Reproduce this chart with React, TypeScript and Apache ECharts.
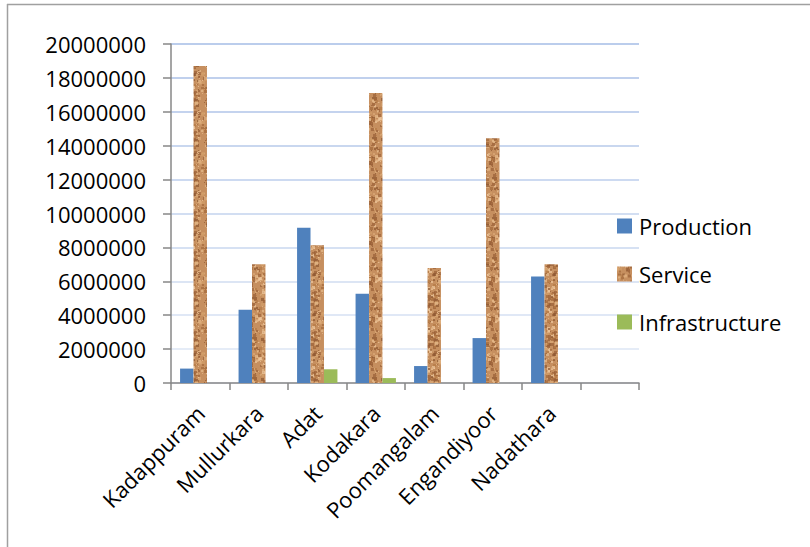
import React, { useEffect, useRef } from "react";
import * as echarts from "echarts";

const categories = ["Kadappuram", "Mullurkara", "Adat", "Kodakara", "Poomangalam", "Engandiyoor", "Nadathara", ""];
const production = [850000, 4320000, 9160000, 5270000, 1000000, 2650000, 6290000, null];
const service = [18700000, 7010000, 8130000, 17110000, 6780000, 14440000, 7010000, null];
const infrastructure = [null, null, 810000, 290000, null, null, null, null];
const yTicks = [0, 2000000, 4000000, 6000000, 8000000, 10000000, 12000000, 14000000, 16000000, 18000000, 20000000];

function hash(n: number): number {
  let x = Math.imul(n ^ 0x9e3779b9, 0x85ebca6b);
  x ^= x >>> 13;
  x = Math.imul(x, 0xc2b2ae35);
  x ^= x >>> 16;
  return (x >>> 0) / 4294967296;
}

function makeCork(): HTMLCanvasElement {
  const size = 40;
  const c = document.createElement("canvas");
  c.width = size;
  c.height = size;
  const ctx = c.getContext("2d")!;
  ctx.fillStyle = "#c68f5f";
  ctx.fillRect(0, 0, size, size);
  const shades = ["#a2683b", "#dcaa78", "#8c5630", "#e6b98a", "#b57945", "#d29c68", "#9a6037", "#efc9a0"];
  for (let i = 0; i < 260; i++) {
    const x = Math.floor(hash(i * 3 + 1) * size);
    const y = Math.floor(hash(i * 3 + 2) * size);
    const r = 1 + Math.floor(hash(i * 3 + 3) * 3);
    ctx.fillStyle = shades[Math.floor(hash(i * 7 + 11) * shades.length)];
    ctx.globalAlpha = 0.7;
    ctx.fillRect(x, y, r, r);
    if (x + r > size) ctx.fillRect(x - size, y, r, r);
    if (y + r > size) ctx.fillRect(x, y - size, r, r);
  }
  ctx.globalAlpha = 1;
  return c;
}

export default function App() {
  const ref = useRef<HTMLDivElement>(null);
  useEffect(() => {
    document.body.style.margin = "0";
    const chart = echarts.init(ref.current!, null, { renderer: "svg" });
    const cork = { image: makeCork(), repeat: "repeat" } as any;
    const font = "'Open Sans', sans-serif";
    const gridColors = ["#e3eaf6", "#dde6f5", "#d6e1f3", "#d0dcf1", "#c9d7ef", "#c3d3ee", "#bdceec", "#b7caea", "#b1c5e8", "#abc1e7", "#a5bde6"];
    chart.setOption({
      animation: false,
      textStyle: { fontFamily: font },
      graphic: [
        { type: "line", shape: { x1: 7.5, y1: 4, x2: 7.5, y2: 547 }, style: { stroke: "#a0a0a0", lineWidth: 1.5 } },
        { type: "line", shape: { x1: 7, y1: 4.5, x2: 810, y2: 4.5 }, style: { stroke: "#a0a0a0", lineWidth: 1.5 } },
      ],
      grid: { left: 171, right: 171, top: 44, bottom: 164 },
      legend: {
        orient: "vertical",
        left: 617,
        top: 215,
        padding: 0,
        itemWidth: 15,
        itemHeight: 15,
        itemGap: 26,
        icon: "rect",
        textStyle: { fontSize: 22, color: "#000", fontFamily: font, padding: [0, 0, 0, 2] },
        data: ["Production", "Service", "Infrastructure"],
      },
      xAxis: {
        type: "category",
        data: categories,
        axisLine: { lineStyle: { color: "#878787", width: 1.5 } },
        axisTick: { show: true, length: 7, lineStyle: { color: "#878787", width: 1.5 } },
        axisLabel: { rotate: 45, fontSize: 22, color: "#000", margin: 26, interval: 0, fontFamily: font },
      },
      yAxis: {
        type: "value",
        min: 0,
        max: 20000000,
        interval: 2000000,
        axisLine: { show: true, lineStyle: { color: "#878787", width: 1.5 } },
        axisTick: { show: true, length: 8, lineStyle: { color: "#878787", width: 1.5 } },
        axisLabel: {
          fontSize: 22,
          color: "#000",
          margin: 25,
          fontFamily: font,
          formatter: (v: number) => (yTicks.includes(v) ? String(v) : ""),
        },
        splitLine: { lineStyle: { color: gridColors, width: 1.5 } },
      },
      series: [
        { name: "Production", type: "bar", data: production, itemStyle: { color: "#4f81bd" }, barGap: "0%", barCategoryGap: "31%" },
        { name: "Service", type: "bar", data: service, itemStyle: { color: cork }, barGap: "0%", barCategoryGap: "31%" },
        { name: "Infrastructure", type: "bar", data: infrastructure, itemStyle: { color: "#9bbb59" }, barGap: "0%", barCategoryGap: "31%" },
      ],
    });
    return () => chart.dispose();
  }, []);
  return <div ref={ref} style={{ width: 810, height: 547 }} />;
}
